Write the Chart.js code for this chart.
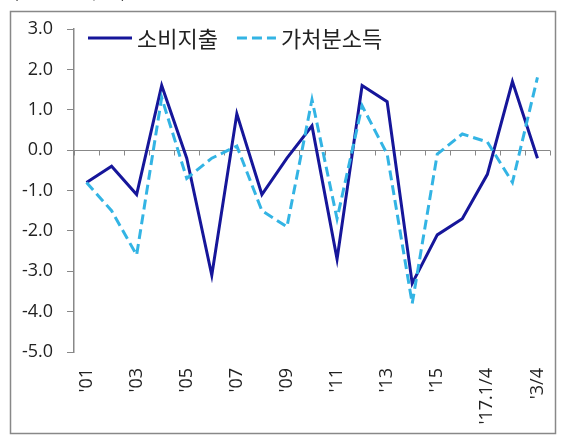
<!DOCTYPE html>
<html>
<head>
<meta charset="utf-8">
<script src="https://cdn.jsdelivr.net/npm/chart.js@4.4.1/dist/chart.umd.min.js"></script>
<style>
html, body { margin: 0; padding: 0; background: #fff; }
#wrap { position: relative; width: 561px; height: 437px; }
</style>
</head>
<body>
<div id="wrap"><canvas id="lineChart" width="561" height="437"></canvas></div>
<script>
// data
const categories = ["'01", "'02", "'03", "'04", "'05", "'06", "'07", "'08", "'09", "'10",
    "'11", "'12", "'13", "'14", "'15", "'16", "'17.1/4", "2/4", "3/4"];
const tickLabels = ["'01", "", "'03", "", "'05", "", "'07", "", "'09", "",
    "'11", "", "'13", "", "'15", "", "'17.1/4", "", "'3/4"];
const spending = [-0.8, -0.4, -1.1, 1.6, -0.2, -3.1, 0.9, -1.1, -0.2, 0.6,
    -2.7, 1.6, 1.2, -3.3, -2.1, -1.7, -0.6, 1.7, -0.2];
const disposableIncome = [-0.8, -1.5, -2.6, 1.3, -0.7, -0.2, 0.1, -1.5, -1.9, 1.25,
    -1.7, 1.1, -0.1, -3.8, -0.1, 0.4, 0.2, -0.8, 1.8];
const seriesNames = ["소비지출", "가처분소득"];
const yMin = -5;
const yMax = 3;
const unitText = "(전기대비, %)";

const solidColor = "#16169a";
const dashColor = "#33b4e4";
const dash = [10, 5];
const axisColor = "#888888";
const textColor = "#222222";
const tickFont = { family: "'Open Sans', 'Noto Sans', sans-serif", size: 18 };

// outer frame + unit text cut off at the top edge
const framePlugin = {
    id: "frame",
    beforeDraw(chart) {
        const ctx = chart.ctx;
        ctx.save();
        ctx.fillStyle = "#fff";
        ctx.fillRect(0, 0, chart.width, chart.height);
        ctx.strokeStyle = axisColor;
        ctx.lineWidth = 1.5;
        ctx.strokeRect(10.5, 11.5, 545, 422);
        ctx.fillStyle = textColor;
        ctx.font = "20px 'Noto Sans CJK KR'";
        ctx.textBaseline = "alphabetic";
        ctx.fillText(unitText, 12, -3);
        ctx.restore();
    }
};

// horizontal axis line at zero with category tick marks
const zeroAxisPlugin = {
    id: "zeroAxis",
    beforeDatasetsDraw(chart) {
        const { ctx, chartArea, scales } = chart;
        const y = Math.round(scales.y.getPixelForValue(0)) + 0.5;
        ctx.save();
        ctx.strokeStyle = axisColor;
        ctx.lineWidth = 1;
        ctx.beginPath();
        ctx.moveTo(chartArea.left, y);
        ctx.lineTo(chartArea.right, y);
        for (let i = 0; i <= categories.length; i++) {
            const x = Math.round(scales.x.getPixelForValue(i - 0.5)) + 0.5;
            ctx.moveTo(x, y);
            ctx.lineTo(x, y + 5);
        }
        ctx.stroke();
        ctx.restore();
    }
};

// legend drawn inside the plot, as in the reference
const insideLegendPlugin = {
    id: "insideLegend",
    afterDraw(chart) {
        const ctx = chart.ctx;
        const y = 38;
        let x = 88;
        ctx.save();
        ctx.font = "22px 'Noto Sans CJK KR'";
        ctx.textBaseline = "middle";
        chart.data.datasets.forEach((ds, i) => {
            const w = i === 0 ? 44 : 39;
            ctx.strokeStyle = ds.borderColor;
            ctx.lineWidth = ds.borderWidth;
            ctx.setLineDash(ds.borderDash || []);
            ctx.beginPath();
            ctx.moveTo(x, y);
            ctx.lineTo(x + w, y);
            ctx.stroke();
            ctx.setLineDash([]);
            x += w + 5;
            ctx.fillStyle = textColor;
            ctx.fillText(ds.label, x, y + 1);
            x += ctx.measureText(ds.label).width + 19;
        });
        ctx.restore();
    }
};

const canvas = document.getElementById("lineChart");
const ctx = canvas.getContext("2d");

new Chart(ctx, {
    type: "line",
    data: {
        labels: categories,
        datasets: [
            {
                label: seriesNames[0],
                data: spending,
                borderColor: solidColor,
                backgroundColor: solidColor,
                borderWidth: 3,
                pointRadius: 0,
                tension: 0,
                order: 1,
            },
            {
                label: seriesNames[1],
                data: disposableIncome,
                borderColor: dashColor,
                backgroundColor: dashColor,
                borderWidth: 3,
                borderDash: dash,
                pointRadius: 0,
                tension: 0,
                order: 0,
            },
        ],
    },
    options: {
        responsive: false,
        animation: false,
        devicePixelRatio: 1,
        layout: { padding: { top: 29, right: 11, bottom: 0, left: 0 } },
        plugins: {
            legend: { display: false },
            tooltip: { enabled: false },
        },
        scales: {
            x: {
                offset: true,
                grid: { display: false, drawTicks: false },
                border: { display: false },
                ticks: {
                    autoSkip: false,
                    minRotation: 90,
                    maxRotation: 90,
                    padding: 16,
                    color: textColor,
                    font: tickFont,
                    callback: (v, i) => tickLabels[i],
                },
                afterFit: (scale) => {
                    scale.height = 85;
                    scale.paddingLeft = 0;
                    scale.paddingRight = 0;
                },
            },
            y: {
                min: yMin,
                max: yMax,
                grid: {
                    drawOnChartArea: false,
                    drawTicks: true,
                    tickLength: 7,
                    color: axisColor,
                },
                border: { display: true, color: axisColor, width: 1.5 },
                ticks: {
                    stepSize: 1,
                    padding: 14,
                    color: textColor,
                    font: tickFont,
                    callback: (v) => v.toFixed(1),
                },
                afterFit: (scale) => { scale.width = 74; },
            },
        },
    },
    plugins: [framePlugin, zeroAxisPlugin, insideLegendPlugin],
});
</script>
</body>
</html>
